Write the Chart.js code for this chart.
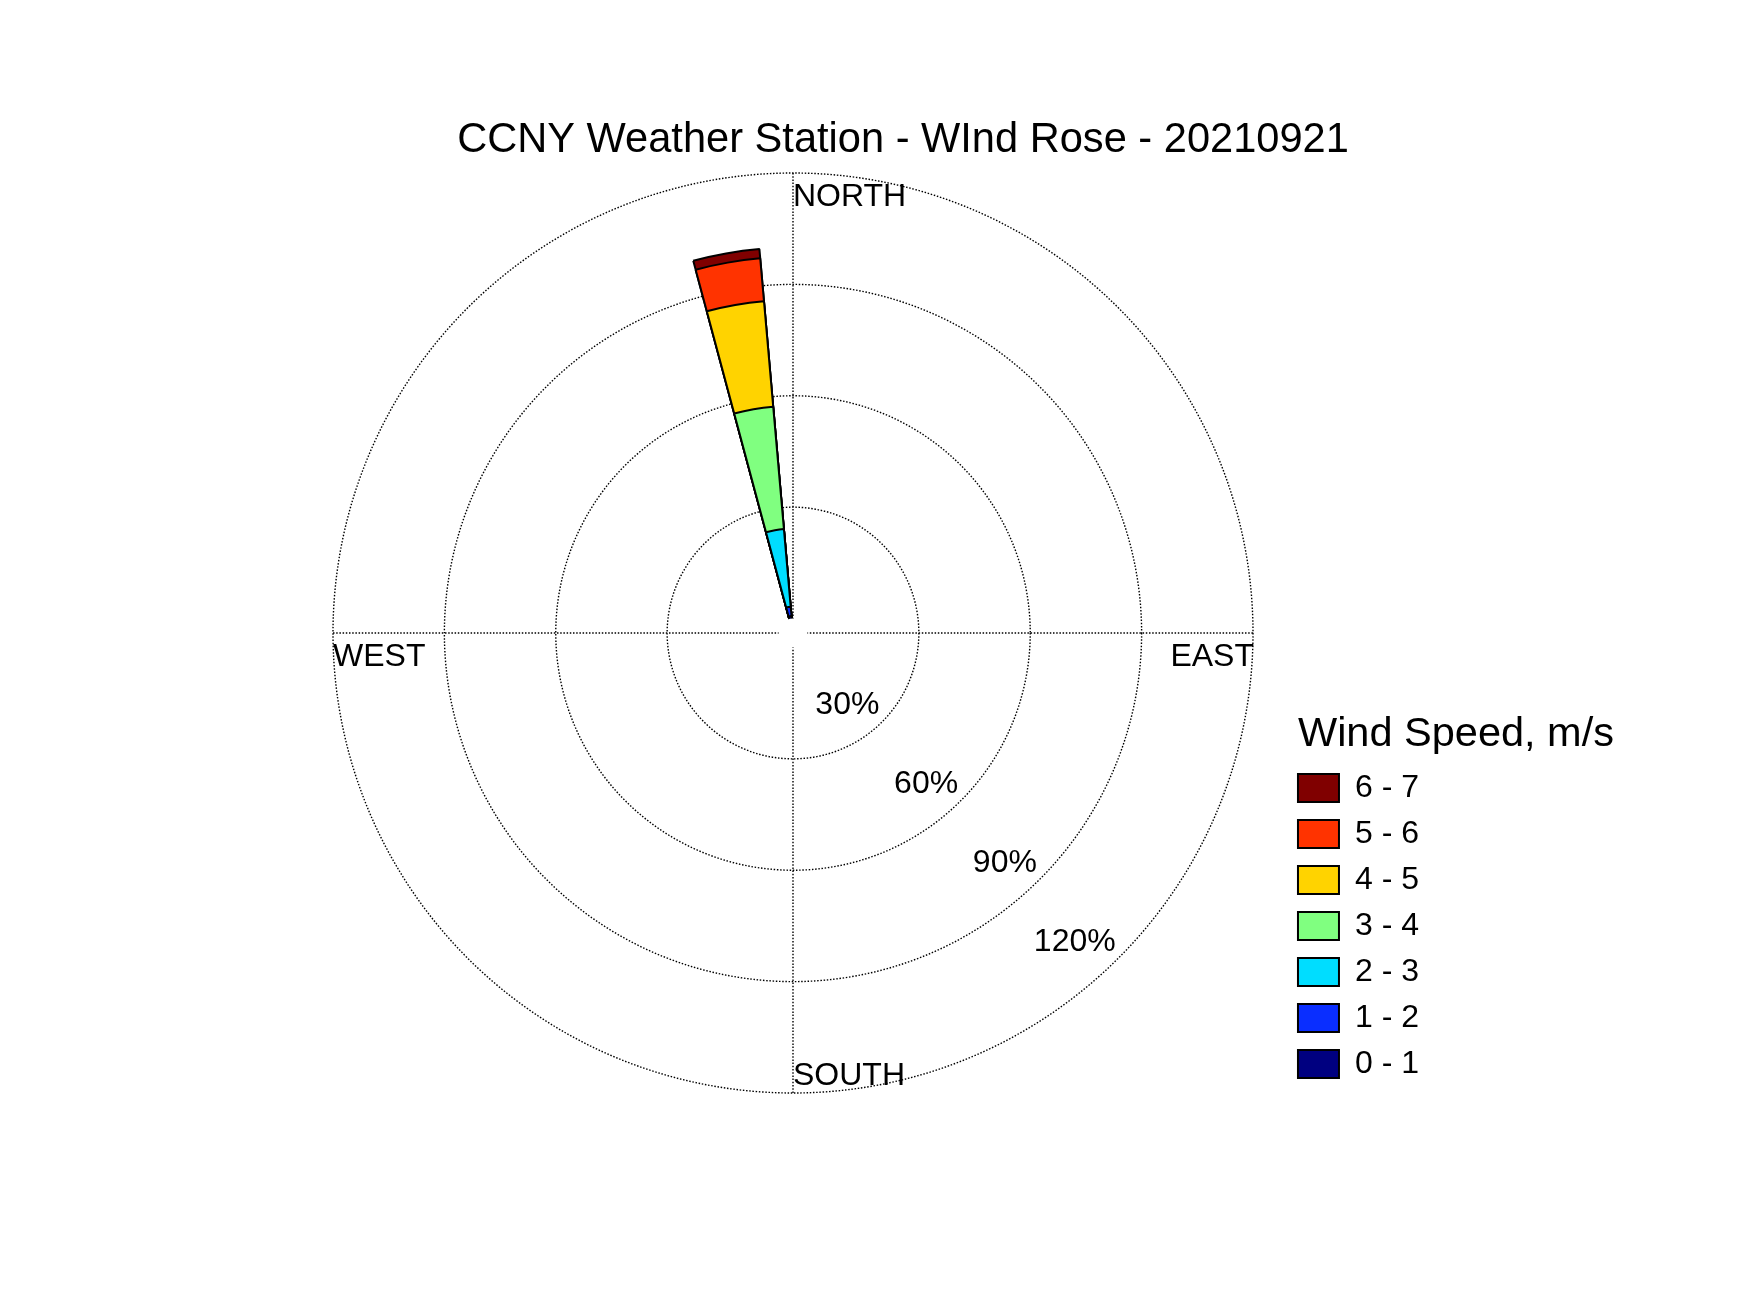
<!DOCTYPE html>
<html lang="en">
<head>
    <meta charset="UTF-8">
    <title>CCNY Weather Station - Wind Rose</title>
    <script src="https://cdn.jsdelivr.net/npm/chart.js"></script>
    <style>
        body { margin: 0; background: #fff; }
        #rose { display: block; }
    </style>
</head>
<body>
    <canvas id="rose" width="1750" height="1313"></canvas>

    <script>
        // direction bins (centre of bin, degrees from north), 10 deg each
        const directions = [0, 10, 20, 30, 40, 50, 60, 70, 80, 90, 100, 110, 120, 130, 140, 150, 160, 170,
                            180, 190, 200, 210, 220, 230, 240, 250, 260, 270, 280, 290, 300, 310, 320, 330, 340, 350];

        // % of observations in each speed class, per direction
        const speed0to1 = [0,0,0,0,0,0,0,0,0,0, 0,0,0,0,0,0,0,0,0,0, 0,0,0,0,0,0,0,0,0,0, 0,0,0,0,0,0.7];
        const speed1to2 = [0,0,0,0,0,0,0,0,0,0, 0,0,0,0,0,0,0,0,0,0, 0,0,0,0,0,0,0,0,0,0, 0,0,0,0,0,2.5];
        const speed2to3 = [0,0,0,0,0,0,0,0,0,0, 0,0,0,0,0,0,0,0,0,0, 0,0,0,0,0,0,0,0,0,0, 0,0,0,0,0,21.0];
        const speed3to4 = [0,0,0,0,0,0,0,0,0,0, 0,0,0,0,0,0,0,0,0,0, 0,0,0,0,0,0,0,0,0,0, 0,0,0,0,0,33.1];
        const speed4to5 = [0,0,0,0,0,0,0,0,0,0, 0,0,0,0,0,0,0,0,0,0, 0,0,0,0,0,0,0,0,0,0, 0,0,0,0,0,28.5];
        const speed5to6 = [0,0,0,0,0,0,0,0,0,0, 0,0,0,0,0,0,0,0,0,0, 0,0,0,0,0,0,0,0,0,0, 0,0,0,0,0,11.6];
        const speed6to7 = [0,0,0,0,0,0,0,0,0,0, 0,0,0,0,0,0,0,0,0,0, 0,0,0,0,0,0,0,0,0,0, 0,0,0,0,0,2.5];

        const speedBins = ["0 - 1", "1 - 2", "2 - 3", "3 - 4", "4 - 5", "5 - 6", "6 - 7"];
        const binColors = ["#000080", "#0A2EFF", "#00DDFF", "#80FF80", "#FFD300", "#FF3300", "#800000"];
        const ringTicks = [30, 60, 90, 120];
        const compass = ["NORTH", "EAST", "SOUTH", "WEST"];
        const chartTitle = "CCNY Weather Station - WInd Rose - 20210921";
        const legendTitle = "Wind Speed, m/s";

        const FONT = '"Liberation Sans", Arial, sans-serif';
        Chart.defaults.font.family = FONT;
        Chart.defaults.color = "#000";

        // polar area does not stack, so each class is drawn as a cumulative wedge,
        // smallest on top
        const binRows = [speed0to1, speed1to2, speed2to3, speed3to4, speed4to5, speed5to6, speed6to7];
        const cumulative = binRows.map((row, b) =>
            row.map((v, i) => binRows.slice(0, b + 1).reduce((sum, r) => sum + r[i], 0)));

        const DOTS = [1.5, 1.7];

        const roseExtras = {
            id: "roseExtras",
            beforeDatasetsDraw(chart) {
                const s = chart.scales.r;
                const ctx = chart.ctx;
                ctx.save();
                ctx.strokeStyle = "#000";
                ctx.lineWidth = 1.4;
                ctx.setLineDash(DOTS);
                ctx.beginPath();
                ctx.moveTo(s.xCenter - s.drawingArea, s.yCenter);
                ctx.lineTo(s.xCenter + s.drawingArea, s.yCenter);
                ctx.moveTo(s.xCenter, s.yCenter - s.drawingArea);
                ctx.lineTo(s.xCenter, s.yCenter + s.drawingArea);
                ctx.stroke();
                ctx.restore();
            },
            afterDatasetsDraw(chart) {
                const s = chart.scales.r;
                const ctx = chart.ctx;
                const cx = s.xCenter, cy = s.yCenter, R = s.drawingArea;
                ctx.save();

                // empty hole in the middle of the rose
                ctx.fillStyle = "#fff";
                ctx.beginPath();
                ctx.arc(cx, cy, s.getDistanceFromCenterForValue(0), 0, Math.PI * 2);
                ctx.fill();

                ctx.fillStyle = "#000";
                ctx.font = "32px " + FONT;
                ctx.textBaseline = "middle";
                ctx.textAlign = "left";
                ctx.fillText(compass[0], cx, cy - R + 24.5);
                ctx.fillText(compass[2], cx, cy + R - 17);
                ctx.fillText(compass[3], cx - R, cy + 24.5);
                ctx.textAlign = "right";
                ctx.fillText(compass[1], cx + R + 1, cy + 24.5);

                // ring labels down the south-east diagonal
                ringTicks.forEach(v => {
                    const d = (s.getDistanceFromCenterForValue(v) - 27) * Math.SQRT1_2;
                    ctx.fillText(v + "%", cx + d + 16.5, cy + d + 2.5);
                });

                // title
                ctx.textAlign = "center";
                ctx.textBaseline = "alphabetic";
                ctx.font = "41.6px " + FONT;
                ctx.fillText(chartTitle, cx + 110, cy - R - 20.7);

                // legend heading sits just above the legend column
                const lg = chart.legend;
                ctx.textAlign = "left";
                ctx.font = "41.5px " + FONT;
                ctx.fillText(legendTitle, lg.left + lg.options.labels.padding,
                    lg.bottom - lg.columnSizes[0].height - 26);
                ctx.restore();
            }
        };

        new Chart(document.getElementById("rose"), {
            type: "polarArea",
            data: {
                labels: directions,
                datasets: speedBins.map((label, b) => ({
                    label: label,
                    data: cumulative[b],
                    backgroundColor: c => c.raw > 0 ? binColors[b] : "rgba(0,0,0,0)",
                    borderColor: "#000",
                    borderWidth: c => c.raw > 0 ? 2 : 0
                }))
            },
            options: {
                responsive: false,
                animation: false,
                devicePixelRatio: 1,
                layout: { padding: { left: 304, right: 321, top: 173, bottom: 219 } },
                scales: {
                    r: {
                        min: -3.9,
                        max: 120,
                        startAngle: -5,
                        afterBuildTicks: scale => { scale.ticks = ringTicks.map(v => ({ value: v })); },
                        ticks: { display: false },
                        grid: { circular: true, color: "#000", lineWidth: 1.4 },
                        border: { dash: DOTS },
                        angleLines: { display: false },
                        pointLabels: { display: false }
                    }
                },
                plugins: {
                    tooltip: { enabled: false },
                    legend: {
                        position: "right",
                        align: "end",
                        labels: {
                            boxWidth: 41,
                            boxHeight: 28,
                            padding: 14,
                            color: "#000",
                            font: { size: 32 },
                            generateLabels: chart => chart.data.datasets.map((ds, i) => ({
                                text: ds.label,
                                fillStyle: binColors[i],
                                strokeStyle: "#000",
                                lineWidth: 2,
                                hidden: false,
                                datasetIndex: i
                            })).reverse()
                        }
                    }
                }
            },
            plugins: [roseExtras]
        });
    </script>
</body>
</html>
